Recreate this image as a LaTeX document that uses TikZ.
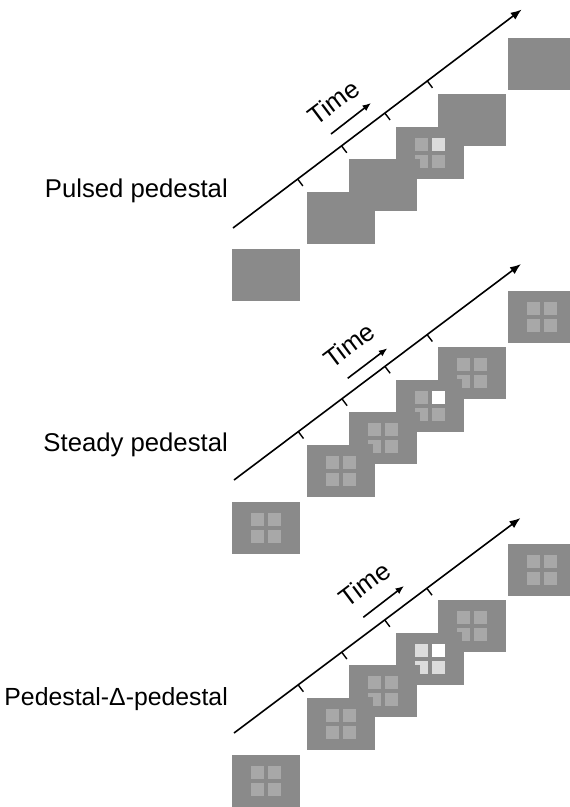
\documentclass[tikz,border=0pt]{standalone}
\usepackage{fontspec}
\setmainfont{Liberation Sans}
\usetikzlibrary{arrows.meta}
\definecolor{bg}{HTML}{8A8A8A}
\definecolor{sq}{HTML}{A8A8A8}
\definecolor{lt}{HTML}{DCDCDC}
\newcommand{\frameset}[2]{%
  \node[frame] (f#1a) at (232,249+#2) {};
  \node[frame] (f#1b) at (307,192+#2) {};
  \node[frame] (f#1c) at (349,159+#2) {};
  \node[frame] (f#1d) at (396,127+#2) {};
  \node[frame] (f#1e) at (438,94+#2) {};
  \node[frame] (f#1f) at (508,38+#2) {};
}
\newcommand{\quadsq}[6]{%
  \fill[#2] ([shift={(-15,-15)}]#1.center) rectangle ++(13,13);
  \fill[#3] ([shift={(2,-15)}]#1.center) rectangle ++(13,13);
  \fill[#4] ([shift={(-15,2)}]#1.center) rectangle ++(13,13);
  \fill[#5] ([shift={(2,2)}]#1.center) rectangle ++(13,13);
  \ifnum#6=1 \fill[bg] ([shift={(-15.5,5.5)}]#1.center) rectangle ++(5.5,10);\fi
}
\newcommand{\timeaxis}[5]{% id, start, end, arrow start, arrow end
  \coordinate (s#1) at #2;
  \coordinate (e#1) at #3;
  \draw[axisline] (s#1) -- (e#1);
  \foreach \t [count=\i] in {0.224,0.376,0.526,0.673} {
    \path (s#1) -- (e#1) coordinate[pos=\t] (k#1\i);
    \draw[tickline] (k#1\i) -- ++(5.2,6.9);
  }
  \coordinate (ta#1) at #4;
  \coordinate (tb#1) at #5;
  \draw[timearrow] (ta#1) -- (tb#1);
}
\begin{document}
\begin{tikzpicture}[x=1pt,y=-1pt,
  frame/.style={rectangle,fill=bg,minimum width=68pt,minimum height=52pt,inner sep=0pt,anchor=north west},
  axisline/.style={line width=1.6pt,-{Latex[length=11pt,width=8.5pt]}},
  tickline/.style={line width=1.4pt},
  timearrow/.style={line width=1.6pt,-{Latex[length=8.5pt,width=7pt]}},
  lab/.style={font=\fontsize{25.7}{30}\selectfont,inner sep=0pt,anchor=base east},
  timelab/.style={font=\fontsize{25.7}{30}\selectfont,inner sep=0pt,rotate=37},
]
\useasboundingbox (0,0) rectangle (570,807);

% frames
\frameset{1}{0}
\frameset{2}{253}
\frameset{3}{506}

% panel 1 stimuli
\quadsq{f1d}{sq}{lt}{sq}{sq}{1}

% panel 2 stimuli
\quadsq{f2a}{sq}{sq}{sq}{sq}{0}
\quadsq{f2b}{sq}{sq}{sq}{sq}{0}
\quadsq{f2c}{sq}{sq}{sq}{sq}{1}
\quadsq{f2d}{sq}{white}{sq}{sq}{1}
\quadsq{f2e}{sq}{sq}{sq}{sq}{1}
\quadsq{f2f}{sq}{sq}{sq}{sq}{0}

% panel 3 stimuli
\quadsq{f3a}{sq}{sq}{sq}{sq}{0}
\quadsq{f3b}{sq}{sq}{sq}{sq}{0}
\quadsq{f3c}{sq}{sq}{sq}{sq}{1}
\quadsq{f3d}{lt}{white}{lt}{lt}{1}
\quadsq{f3e}{sq}{sq}{sq}{sq}{1}
\quadsq{f3f}{sq}{sq}{sq}{sq}{0}

% axes
\timeaxis{1}{(233,228)}{(521.7,9.5)}{(331,134)}{(371,103)}
\timeaxis{2}{(234,480)}{(521,264)}{(347.7,378.3)}{(387.3,348.3)}
\timeaxis{3}{(234,733)}{(520.5,518)}{(363.3,617.3)}{(404,586)}

\node[timelab] (time1) at (333.5,102) {Time};
\node[timelab] (time2) at (349,345) {Time};
\node[timelab] (time3) at (364.5,584) {Time};

% labels
\node[lab] (lab1) at (228,197) {Pulsed pedestal};
\node[lab] (lab2) at (228,451) {Steady pedestal};
\node[lab,font=\fontsize{24.8}{30}\selectfont] (lab3) at (228,705) {Pedestal-Δ-pedestal};
\end{tikzpicture}
\end{document}
